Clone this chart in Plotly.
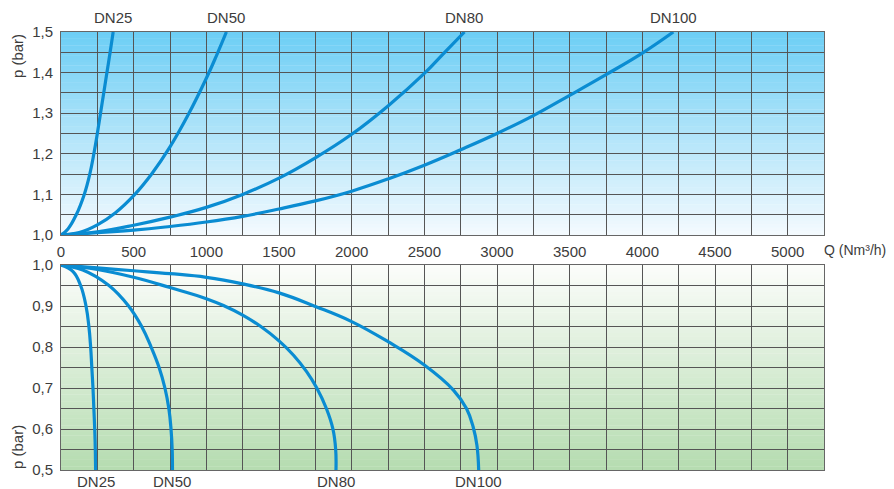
import plotly.graph_objects as go

# ---------------- data ----------------
# upper diagram: p (bar) 1,0 .. 1,5 vs Q (Nm3/h)
q25_up = [0, 48, 105, 160, 198, 226, 250, 272, 294, 316, 338, 359]
p25_up = [1.0, 1.015, 1.05, 1.10, 1.15, 1.20, 1.25, 1.30, 1.35, 1.40, 1.45, 1.50]

q50_up = [0, 125, 250, 375, 500, 625, 750, 875, 1000, 1070, 1138]
p50_up = [1.0, 1.006, 1.025, 1.055, 1.097, 1.151, 1.217, 1.296, 1.386, 1.442, 1.50]

q80_up = [0, 250, 500, 750, 1000, 1250, 1500, 1750, 2000, 2250, 2500, 2640, 2776]
p80_up = [1.0, 1.008, 1.024, 1.044, 1.068, 1.100, 1.140, 1.190, 1.248, 1.318, 1.398, 1.450, 1.50]

q100_up = [0, 500, 750, 1000, 1250, 1500, 1750, 2000, 2250, 2500, 2750, 3000, 3250, 3500, 3750, 4000, 4213]
p100_up = [1.0, 1.012, 1.021, 1.032, 1.046, 1.064, 1.084, 1.108, 1.138, 1.172, 1.210, 1.250, 1.294, 1.344, 1.395, 1.448, 1.50]

# lower diagram: p (bar) 1,0 .. 0,5 vs Q (Nm3/h)
q25_lo = [0, 83, 135, 172, 192, 204, 212, 220, 226, 232, 236, 238]
p25_lo = [1.0, 0.984, 0.95, 0.90, 0.85, 0.80, 0.75, 0.70, 0.65, 0.60, 0.55, 0.50]

q50_lo = [0, 150, 330, 465, 555, 620, 675, 715, 742, 757, 765, 767]
p50_lo = [1.0, 0.988, 0.95, 0.90, 0.85, 0.80, 0.75, 0.70, 0.65, 0.60, 0.55, 0.50]

q80_lo = [0, 250, 500, 750, 1000, 1125, 1250, 1375, 1500, 1600, 1690, 1760, 1826, 1871, 1890, 1892]
p80_lo = [1.0, 0.989, 0.970, 0.945, 0.918, 0.900, 0.878, 0.850, 0.815, 0.780, 0.740, 0.700, 0.650, 0.600, 0.550, 0.50]

q100_lo = [0, 250, 500, 750, 1000, 1250, 1500, 1750, 2000, 2250, 2500, 2700, 2790, 2836, 2862, 2874]
p100_lo = [1.0, 0.993, 0.986, 0.979, 0.970, 0.954, 0.932, 0.899, 0.862, 0.813, 0.756, 0.695, 0.650, 0.605, 0.560, 0.50]

series_names = ["DN25", "DN50", "DN80", "DN100"]
upper = [(q25_up, p25_up), (q50_up, p50_up), (q80_up, p80_up), (q100_up, p100_up)]
lower = [(q25_lo, p25_lo), (q50_lo, p50_lo), (q80_lo, p80_lo), (q100_lo, p100_lo)]

q_grid = list(range(0, 5251, 250))
q_text = [str(v) if v % 500 == 0 and v <= 5000 else "" for v in q_grid]
p_up_grid = [round(1.0 + 0.05 * i, 2) for i in range(11)]
p_lo_grid = [round(0.5 + 0.05 * i, 2) for i in range(11)]


def p_label(v):
    if round(v * 100) % 10 == 0:
        return ("%.1f" % v).replace(".", ",")
    return ""


# ---------------- figure ----------------
LINE = "#0a8cd2"
FONT = dict(family="Liberation Sans, Arial, sans-serif", size=15, color="#3c3c3c")
GRID = "#555555"

fig = go.Figure()
for name, (q, p) in zip(series_names, upper):
    fig.add_trace(go.Scatter(x=q, y=p, mode="lines", name=name, xaxis="x", yaxis="y",
                             line=dict(color=LINE, width=3.2, shape="spline", smoothing=1.2),
                             showlegend=False, hoverinfo="skip"))
for name, (q, p) in zip(series_names, lower):
    fig.add_trace(go.Scatter(x=q, y=p, mode="lines", name=name, xaxis="x2", yaxis="y2",
                             line=dict(color=LINE, width=3.2, shape="spline", smoothing=1.2),
                             showlegend=False, hoverinfo="skip"))

# gradient backgrounds
shapes = []
N = 60
top_c0, top_c1 = (108, 206, 245), (244, 250, 254)   # top -> bottom
bot_c0, bot_c1 = (252, 253, 251), (181, 220, 176)
for i in range(N):
    t = (i + 0.5) / N
    c = tuple(round(a + (b - a) * t) for a, b in zip(top_c0, top_c1))
    shapes.append(dict(type="rect", xref="x domain", yref="y domain", x0=0, x1=1,
                       y0=1 - (i + 1) / N, y1=1 - i / N + 0.002, layer="below",
                       line=dict(width=0), fillcolor="rgb(%d,%d,%d)" % c))
    c2 = tuple(round(a + (b - a) * t) for a, b in zip(bot_c0, bot_c1))
    shapes.append(dict(type="rect", xref="x2 domain", yref="y2 domain", x0=0, x1=1,
                       y0=1 - (i + 1) / N, y1=1 - i / N + 0.002, layer="below",
                       line=dict(width=0), fillcolor="rgb(%d,%d,%d)" % c2))

axis_common = dict(showgrid=True, gridcolor=GRID, gridwidth=1, zeroline=False,
                   showline=True, linecolor="#666666", linewidth=1, mirror=True,
                   ticks="", tickfont=FONT, fixedrange=True)

annotations = []
for name, (q, p) in zip(series_names, upper):
    annotations.append(dict(text=name, xref="x", yref="y", x=q[-1], y=1.5, yshift=15,
                            showarrow=False, font=FONT, xanchor="center", yanchor="middle"))
for name, (q, p) in zip(series_names, lower):
    annotations.append(dict(text=name, xref="x2", yref="y2", x=q[-1], y=0.5, yshift=-12,
                            showarrow=False, font=FONT, xanchor="center", yanchor="middle"))
annotations.append(dict(text="p (bar)", xref="paper", yref="paper", x=0, xshift=-44,
                        y=0.945, textangle=-90, showarrow=False, font=FONT,
                        xanchor="center", yanchor="middle"))
annotations.append(dict(text="p (bar)", xref="paper", yref="paper", x=0, xshift=-44,
                        y=0.0525, textangle=-90, showarrow=False, font=FONT,
                        xanchor="center", yanchor="middle"))
annotations.append(dict(text="Q (Nm³/h)", xref="paper", yref="paper", x=1, xshift=-1,
                        y=0.5023, showarrow=False, borderpad=0,
                        font=dict(family=FONT["family"], size=14, color=FONT["color"]),
                        xanchor="left", yanchor="middle"))

# page body has an 8px margin: shift the figure so the plot lands where the reference has it
fig.update_layout(
    width=886, height=481,
    margin=dict(l=53, r=70, t=24, b=19),
    paper_bgcolor="white", plot_bgcolor="rgba(0,0,0,0)",
    font=FONT,
    xaxis=dict(domain=[0, 1], anchor="y", range=[0, 5250], tickvals=q_grid, ticktext=q_text,
               ticklabelstandoff=3, **axis_common),
    yaxis=dict(domain=[0.5365, 1], anchor="x", range=[1.0, 1.5], tickvals=p_up_grid,
               ticktext=[p_label(v) for v in p_up_grid], ticklabelstandoff=4, **axis_common),
    xaxis2=dict(domain=[0, 1], anchor="y2", range=[0, 5250], tickvals=q_grid,
                showticklabels=False, **axis_common),
    yaxis2=dict(domain=[0, 0.468], anchor="x2", range=[0.5, 1.0], tickvals=p_lo_grid,
                ticktext=[p_label(v) for v in p_lo_grid], ticklabelstandoff=4, **axis_common),
    shapes=shapes,
    annotations=annotations,
)

fig.write_html("out.html")
